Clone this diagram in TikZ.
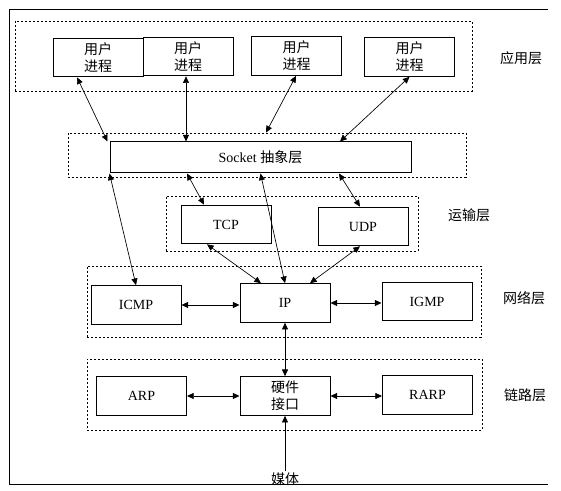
\documentclass[tikz,border=0pt]{standalone}
\usepackage{fontspec}
\setmainfont{Liberation Serif}
\newfontfamily\cjk{Noto Sans CJK SC}
\usetikzlibrary{arrows.meta,calc}

\begin{document}
\begin{tikzpicture}[x=0.75pt,y=-0.75pt,
  font=\fontsize{10.5}{12.75}\selectfont,
  >={Triangle[length=5pt,width=4.5pt]},
  box/.style={draw,line width=0.75pt,minimum width=67.5pt,minimum height=29pt,inner sep=0pt,align=center},
  layer/.style={draw,line width=0.6pt,dash pattern=on 1.5pt off 1.5pt,inner sep=0pt},
  link/.style={<->,line width=0.5pt},
  tag/.style={font=\cjk\fontsize{10.5}{12.75}\selectfont}]
\useasboundingbox (0,0) rectangle (561,491);
\draw[line width=0.75pt] (548,10) -- (9,10) -- (9,485) -- (548,485);

\node[layer,minimum width=342.75pt,minimum height=52.5pt] (app) at (243.5,56) {};
\node[layer,minimum width=298.5pt,minimum height=33pt] (sockl) at (267,155) {};
\node[layer,minimum width=189pt,minimum height=41.25pt] (trans) at (292,223.5) {};
\node[layer,minimum width=295.5pt,minimum height=53.25pt] (net) at (284,301.5) {};
\node[layer,minimum width=296.25pt,minimum height=53.25pt] (lnk) at (284.5,394.5) {};

\node[box] (u1) at (98,57.5) {\cjk 用户\\\cjk 进程};
\node[box] (u2) at (188,56.5) {\cjk 用户\\\cjk 进程};
\node[box] (u3) at (296.5,56) {\cjk 用户\\\cjk 进程};
\node[box] (u4) at (409.5,57) {\cjk 用户\\\cjk 进程};
\node[box,minimum width=225.75pt,minimum height=23.25pt] (sock) at (260.5,157.5) {Socket {\cjk 抽象层}};
\node[box] (tcp) at (226,224.5) {TCP};
\node[box] (udp) at (363,226.5) {UDP};
\node[box] (icmp) at (136,305) {ICMP};
\node[box] (ip) at (285,303) {IP};
\node[box] (igmp) at (427,301.5) {IGMP};
\node[box] (arp) at (141.5,396) {ARP};
\node[box] (hw) at (285,396) {\cjk 硬件\\\cjk 接口};
\node[box] (rarp) at (427.5,395) {RARP};

\node[tag] (tapp) at (521,58) {应用层};
\node[tag] (ttrans) at (469,215) {运输层};
\node[tag] (tnet) at (524,298) {网络层};
\node[tag] (tlnk) at (525,395) {链路层};
\node[tag,inner sep=1pt] (media) at (285,479) {媒体};

\draw[link] ($(u1.south)+(-21,0)$) -- ($(sock.north west)+(-2,0)$);
\draw[link] ($(u2.south)+(-2,0)$) -- ($(sock.north)+(-74.5,0)$);
\draw[link] ($(u3.south)+(-0.5,0)$) -- ($(sockl.north)+(-1,0)$);
\draw[link] (u4.south) -- ($(sock.north)+(79.5,0)$);
\draw[link] (sock.south west) -- (icmp.north);
\draw[link] ($(sock.south)+(-73.5,0)$) -- ($(tcp.north)+(-22,0)$);
\draw[link] (sock.south) -- (ip.north);
\draw[link] ($(sock.south)+(78.5,0)$) -- ($(udp.north)+(-3,0)$);
\draw[link] ($(tcp.south)+(-19,0)$) -- ($(ip.north)+(-24,0)$);
\draw[link] ($(udp.south)+(-3,0)$) -- ($(ip.north)+(25,0)$);
\draw[link] (icmp.east) -- (icmp.east -| ip.west);
\draw[link] (ip.east) -- (ip.east -| igmp.west);
\draw[link] (ip.south) -- (hw.north);
\draw[link] (arp.east) -- (arp.east -| hw.west);
\draw[link] (hw.east) -- (hw.east -| rarp.west);
\draw[->,line width=0.5pt] (media) -- (hw.south);
\end{tikzpicture}
\end{document}
